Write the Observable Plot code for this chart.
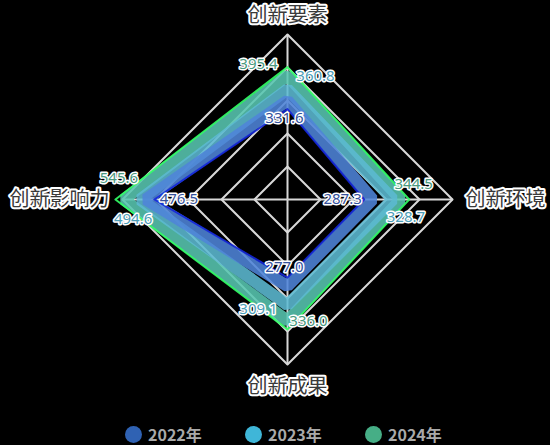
<!DOCTYPE html>
<html>
<head>
<meta charset="utf-8">
<script src="https://cdn.jsdelivr.net/npm/d3@7"></script>
<script src="https://cdn.jsdelivr.net/npm/@observablehq/plot@0.6"></script>
<style>
  html, body { margin: 0; padding: 0; background: #000; }
  body { width: 550px; height: 445px; overflow: hidden; position: relative;
         font-family: "Noto Sans CJK SC", "Noto Sans", sans-serif; }
  #chart svg { display: block; overflow: visible; }
  #legend { position: absolute; left: 0; top: 425px; width: 550px; height: 18px;
            display: flex; align-items: center; padding-left: 125px; box-sizing: border-box; }
  .item { display: flex; align-items: center; width: 120px; }
  .dot { width: 17px; height: 17px; border-radius: 50%; margin-right: 6px; }
  .lab { color: #a9a9a9; font-weight: bold; font-size: 16px; line-height: 17px; }
</style>
</head>
<body>
<div id="chart"></div>
<div id="legend"></div>
<script>
// ---- data ----
const axes = ["创新要素", "创新环境", "创新成果", "创新影响力"];
const years = ["2022年", "2023年", "2024年"];
const v2022 = [331.6, 287.3, 277.0, 476.5];
const v2023 = [360.8, 328.7, 309.1, 494.6];
const v2024 = [395.4, 344.5, 336.0, 545.6];
const axisMin = [80, 114, 130, 30];
const axisMax = [500, 450, 410, 550];

// ---- style config ----
const legendColors = ["#2f62b3", "#3fb6d8", "#46ae86"];
const bandColors = ["#4f84d8", "#5cbad2", "#58c6b0"];
const labelColors = ["#34519c", "#4b9db8", "#4a9a80"];
// label offsets in px (dx, dy) per series per axis
const labelOffsets = [
  [[-3, 18], [-30, 0], [-3, -19], [33, 0]],
  [[28, -13], [13, 18], [-29, 4], [-7, 20]],
  [[-29, -11], [13, -15], [21, 0], [-5, -21]]
];
// gap in px between outer ring and axis name
const nameGaps = [19, 13, 22, 13];

const W = 550, H = 418, R = 165, cx = 287, cy = 199;
const seriesValues = [v2022, v2023, v2024];
const scales = axes.map((a, i) => d3.scaleLinear().domain([axisMin[i], axisMax[i]]).range([0, 1]));
const ang = i => (i * 2 * Math.PI) / axes.length;
const px = (r, i) => r * Math.sin(ang(i));
const py = (r, i) => r * Math.cos(ang(i));

const rows = years.flatMap((year, s) => axes.map((axis, i) => {
  const r = scales[i](seriesValues[s][i]);
  return { year, s, axis, i, value: seriesValues[s][i], r };
}));

const levels = [0.2, 0.4, 0.6, 0.8, 1];
const gridRows = levels.flatMap(level => axes.map((a, i) => ({ level, i })));
const axisRows = axes.map((name, i) => ({ name, i }));

const marks = [];
// grid
marks.push(Plot.line(gridRows, {
  x: d => px(d.level, d.i), y: d => py(d.level, d.i), z: "level",
  curve: "linear-closed", stroke: "#d8d8d8", strokeWidth: 2
}));
marks.push(Plot.link(axisRows, {
  x1: () => 0, y1: () => 0,
  x2: d => px(1, d.i), y2: d => py(1, d.i),
  stroke: "#d8d8d8", strokeWidth: 2
}));

// series bands: draw outermost (2024) first
const halfW = 8.5 / R;
[2, 1, 0].forEach(s => {
  const data = rows.filter(d => d.s === s);
  marks.push(Plot.line(data, {
    x: d => px(d.r, d.i), y: d => py(d.r, d.i),
    curve: "linear-closed", stroke: bandColors[s], strokeWidth: 12,
    strokeOpacity: 0.88, strokeLinejoin: "miter"
  }));
});
// bright outer edge of 2024
marks.push(Plot.line(rows.filter(d => d.s === 2), {
  x: d => px(d.r + halfW, d.i), y: d => py(d.r + halfW, d.i),
  curve: "linear-closed", stroke: "#33ff66", strokeWidth: 2, strokeOpacity: 0.9
}));
// dark inner edge of 2022
marks.push(Plot.line(rows.filter(d => d.s === 0), {
  x: d => px(d.r - halfW, d.i), y: d => py(d.r - halfW, d.i),
  curve: "linear-closed", stroke: "#1426d8", strokeWidth: 2, strokeOpacity: 0.9
}));

// axis names
const nameR = i => 1 + nameGaps[i] / R;
const anchorOf = i => { const s = Math.sin(ang(i)); return s > 0.5 ? "start" : s < -0.5 ? "end" : "middle"; };
["start", "middle", "end"].forEach(anchor => {
  marks.push(Plot.text(axisRows.filter(d => anchorOf(d.i) === anchor), {
    x: d => px(nameR(d.i), d.i), y: d => py(nameR(d.i), d.i),
    text: "name", textAnchor: anchor,
    fontSize: 20, fontFamily: "Noto Sans CJK SC", fill: "#3a3a3a",
    stroke: "#ffffff", strokeWidth: 4
  }));
});

// value labels
const fmt = d3.format(".1f");
[0, 1, 2].forEach(s => {
  const data = rows.filter(d => d.s === s);
  marks.push(Plot.text(data, {
    x: d => px(d.r, d.i) + labelOffsets[s][d.i][0] / R,
    y: d => py(d.r, d.i) - labelOffsets[s][d.i][1] / R,
    text: d => fmt(d.value),
    fontSize: 15, fontFamily: "Noto Sans", fill: labelColors[s],
    stroke: "#ffffff", strokeWidth: 3
  }));
});

const chart = Plot.plot({
  width: W, height: H,
  marginLeft: cx - R, marginRight: W - (cx + R),
  marginTop: cy - R, marginBottom: H - (cy + R),
  x: { domain: [-1, 1], axis: null },
  y: { domain: [-1, 1], axis: null },
  style: { background: "transparent", overflow: "visible" },
  marks
});
document.getElementById("chart").appendChild(chart);

// legend
const legend = document.getElementById("legend");
years.forEach((y, s) => {
  const it = document.createElement("div");
  it.className = "item";
  const dot = document.createElement("div");
  dot.className = "dot";
  dot.style.background = legendColors[s];
  const lab = document.createElement("span");
  lab.className = "lab";
  lab.textContent = y;
  it.appendChild(dot); it.appendChild(lab);
  legend.appendChild(it);
});
</script>
</body>
</html>
